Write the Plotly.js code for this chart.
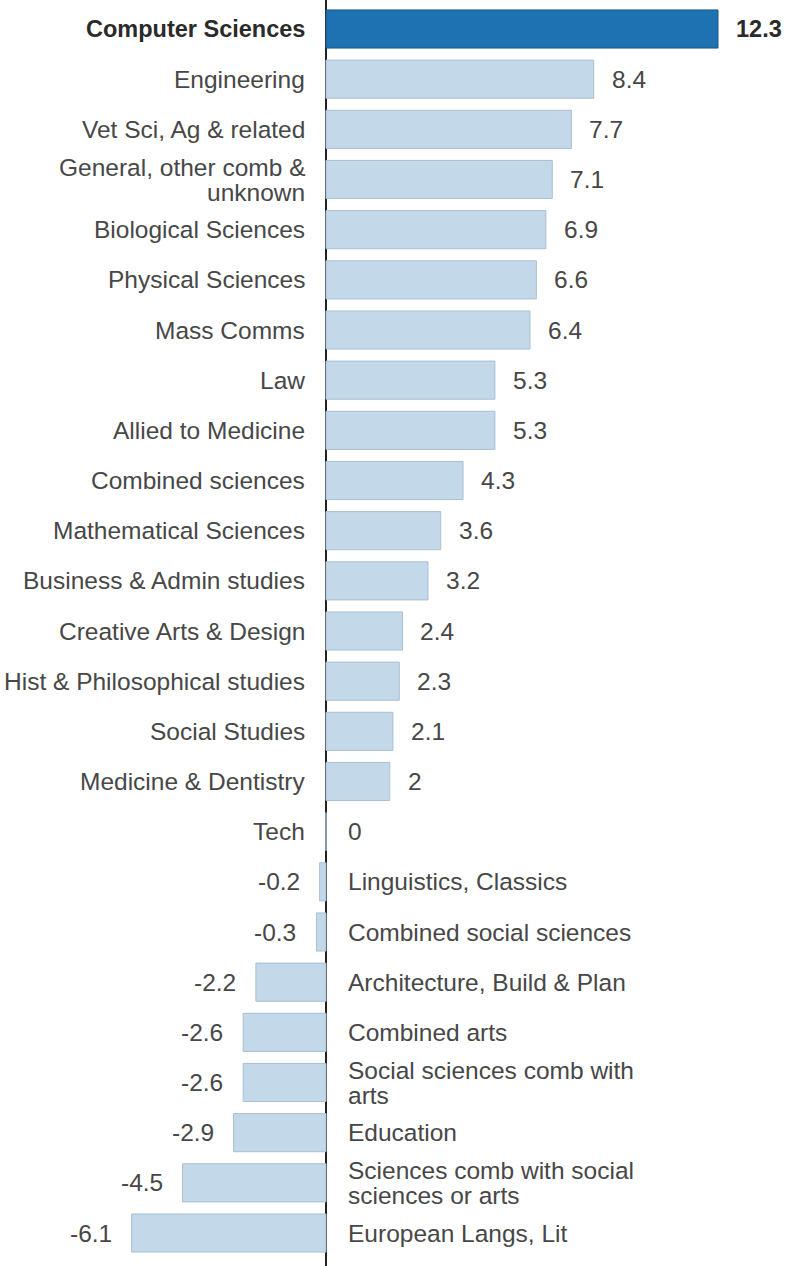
<!DOCTYPE html>
<html>
<head>
<meta charset="utf-8">
<script src="https://cdn.plot.ly/plotly-3.0.1.min.js"></script>
<style>html,body{margin:0;padding:0;background:#fff;}</style>
</head>
<body>
<div id="chart" style="width:787px;height:1266px;"></div>
<script>
const categories = [
  "Computer Sciences", "Engineering", "Vet Sci, Ag & related",
  "General, other comb &<br>unknown", "Biological Sciences", "Physical Sciences",
  "Mass Comms", "Law", "Allied to Medicine", "Combined sciences",
  "Mathematical Sciences", "Business & Admin studies", "Creative Arts & Design",
  "Hist & Philosophical studies", "Social Studies", "Medicine & Dentistry",
  "Tech", "Linguistics, Classics", "Combined social sciences",
  "Architecture, Build & Plan", "Combined arts", "Social sciences comb with<br>arts",
  "Education", "Sciences comb with social<br>sciences or arts", "European Langs, Lit"
];
const values = [12.3, 8.4, 7.7, 7.1, 6.9, 6.6, 6.4, 5.3, 5.3, 4.3, 3.6, 3.2, 2.4, 2.3, 2.1, 2,
  0, -0.2, -0.3, -2.2, -2.6, -2.6, -2.9, -4.5, -6.1];
const highlight = "Computer Sciences";

const FONT = "Liberation Sans, Arial, sans-serif";
const FS = 24.5;
const FS_HI = 23.5;
const LINEH = 25;

const colors = categories.map(c => c === highlight ? "#1f72b2" : "#c3d9ea");
const lineColors = categories.map(c => c === highlight ? "#1a5584" : "#a9bfd1");

const trace = {
  type: "bar",
  orientation: "h",
  y: categories,
  x: values,
  marker: {color: colors, line: {color: lineColors, width: 1}},
  hoverinfo: "x+y"
};

const annotations = [];
categories.forEach((c, i) => {
  const v = values[i];
  const pos = v >= 0;
  const isHi = c === highlight;
  const col = isHi ? "#2a2a2a" : "#474747";
  const fs = isHi ? FS_HI : FS;
  const lines = c.split("<br>");
  const n = lines.length;
  lines.forEach((ln, k) => {
    annotations.push({
      x: 0, y: c, xref: "x", yref: "y",
      text: isHi ? "<b>" + ln + "</b>" : ln,
      showarrow: false,
      xanchor: pos ? "right" : "left",
      xshift: pos ? -19 : 20,
      yshift: ((n - 1) / 2 - k) * LINEH,
      font: {family: FONT, size: fs, color: col}
    });
  });
  annotations.push({
    x: v, y: c, xref: "x", yref: "y",
    text: isHi ? "<b>" + v + "</b>" : String(v),
    showarrow: false,
    xanchor: pos ? "left" : "right",
    xshift: pos ? (v === 0 ? 20 : 16) : -18,
    font: {family: FONT, size: fs, color: col}
  });
});

const scale = (718 - 326) / 12.3;
const xmin = -326 / scale, xmax = (787 - 326) / scale;
const pitch = (1233 - 29) / 24;
const ytop = -29 / pitch, ybot = (1266 - 29) / pitch;

const layout = {
  width: 787, height: 1266,
  margin: {l: 0, r: 0, t: 0, b: 0},
  paper_bgcolor: "#fff", plot_bgcolor: "#fff",
  showlegend: false,
  bargap: 0.24,
  xaxis: {range: [xmin, xmax], showgrid: false, showticklabels: false, ticks: "",
    zeroline: true, zerolinecolor: "#222", zerolinewidth: 2, fixedrange: true},
  yaxis: {type: "category", range: [ybot, ytop], showgrid: false, showticklabels: false,
    ticks: "", zeroline: false, fixedrange: true},
  annotations: annotations,
  font: {family: FONT}
};

Plotly.newPlot("chart", [trace], layout, {displayModeBar: false, staticPlot: true});
</script>
</body>
</html>
